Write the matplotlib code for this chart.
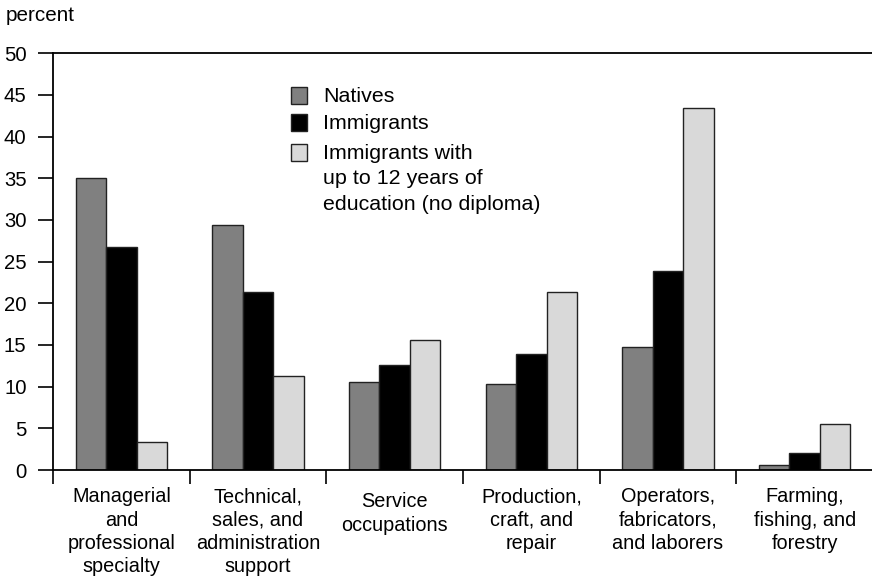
import matplotlib
matplotlib.use("Agg")
import matplotlib.pyplot as plt
import matplotlib.transforms as mtransforms
from matplotlib.patches import Rectangle
import numpy as np

plt.rcParams['font.family'] = ['Liberation Sans', 'DejaVu Sans']

categories = [
    "Managerial\nand\nprofessional\nspecialty",
    "Technical,\nsales, and\nadministration\nsupport",
    "Service\noccupations",
    "Production,\ncraft, and\nrepair",
    "Operators,\nfabricators,\nand laborers",
    "Farming,\nfishing, and\nforestry",
]
series_names = ["Natives", "Immigrants",
                "Immigrants with\nup to 12 years of\neducation (no diploma)"]
natives = [35.0, 29.4, 10.5, 10.3, 14.7, 0.6]
immigrants = [26.8, 21.4, 12.6, 13.9, 23.9, 2.0]
immigrants_low_edu = [3.3, 11.3, 15.6, 21.3, 43.4, 5.5]
y_ticks = [0, 5, 10, 15, 20, 25, 30, 35, 40, 45, 50]

colors = ["#808080", "#000000", "#d9d9d9"]

fig = plt.figure(figsize=(8.72, 5.80), dpi=100)
W, H = 872, 580
ax = fig.add_axes([53 / W, (H - 470) / H, 820 / W, 416.7 / H])

x = np.arange(len(categories))
bw = 0.222
for i, (vals, c) in enumerate(zip([natives, immigrants, immigrants_low_edu], colors)):
    ax.bar(x + (i - 1) * bw, vals, width=bw, color=c, edgecolor="#222222",
           linewidth=1.0, zorder=2)

ax.set_xlim(-0.5, len(categories) - 0.5)
ax.set_ylim(0, 50)
ax.set_yticks(y_ticks)
ax.set_yticklabels([str(t) for t in y_ticks], fontsize=14.6)
ax.tick_params(axis='y', direction='out', length=11, width=1.2, pad=8, color='black')

ax.set_xticks(np.arange(len(categories)) - 0.5)
ax.set_xticklabels([])
ax.tick_params(axis='x', which='major', direction='out', length=10, width=1.2)
ax.set_xticks(x, minor=True)
ax.set_xticklabels(categories, minor=True, fontsize=14.3, linespacing=1.29)
ax.tick_params(axis='x', which='minor', length=0, pad=12.5)

# the "Service occupations" label sits slightly lower in the original
lbl = ax.get_xticklabels(minor=True)[2]
lbl.set_transform(lbl.get_transform() +
                  mtransforms.ScaledTranslation(0, -5 / 100, fig.dpi_scale_trans))

for s in ['left', 'bottom', 'top']:
    ax.spines[s].set_linewidth(1.3)
    ax.spines[s].set_color('black')
ax.spines['right'].set_visible(False)

# "percent" label
fig.text(6 / W, 1 - 20.7 / H, "percent", fontsize=14.9, va='baseline', ha='left')

# legend (manual)
patch_tops = [87.3, 114.0, 144.3]
for c, pt in zip(colors, patch_tops):
    r = Rectangle((290.7 / W, 1 - (pt + 16.5) / H), 16.6 / W, 16.5 / H,
                  transform=fig.transFigure, facecolor=c, edgecolor="#222222",
                  linewidth=1.0)
    fig.add_artist(r)

legend_lines = [(series_names[0], 96.5), (series_names[1], 123.3)]
for txt, yy in legend_lines:
    fig.text(323 / W, 1 - yy / H, txt, fontsize=15.4, va='center', ha='left')
for j, line in enumerate(series_names[2].split("\n")):
    fig.text(323 / W, 1 - (153.3 + 25.5 * j) / H, line, fontsize=15.4,
             va='center', ha='left')

fig.savefig("out.png", dpi=100)
